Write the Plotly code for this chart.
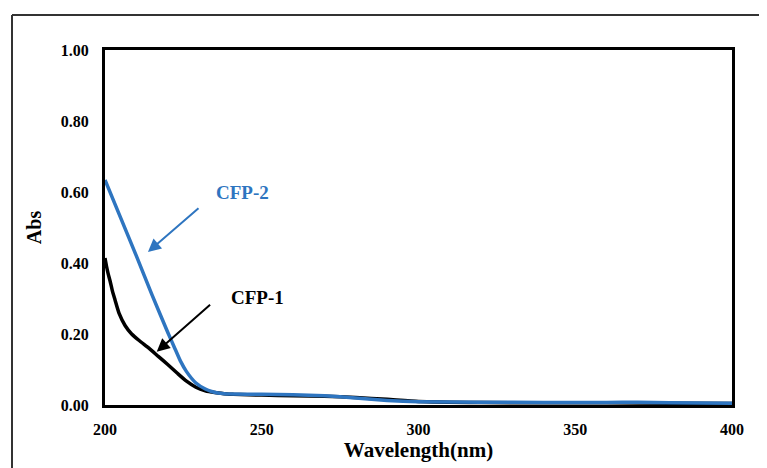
import plotly.graph_objects as go

# CFP-1 (black)
wl_cfp1 = [200, 200.5, 201, 201.6, 202.4, 203.2, 204.5, 206.4, 208.5, 211, 214, 217, 220, 223, 226, 229, 232, 235, 238, 241,
           250, 260, 270, 280, 290, 300, 320, 340, 360, 380, 400]
abs_cfp1 = [0.414, 0.39, 0.37, 0.35, 0.32, 0.296, 0.258, 0.224, 0.2, 0.181, 0.16, 0.137, 0.114, 0.09, 0.067, 0.05, 0.04, 0.035, 0.032, 0.030,
            0.028, 0.026, 0.025, 0.021, 0.016, 0.010, 0.007, 0.006, 0.006, 0.005, 0.004]

# CFP-2 (blue)
wl_cfp2 = [200, 205, 210, 215, 220, 222, 224, 226, 229, 232, 234, 236, 238, 240, 250, 260, 270, 280, 290,
           300, 320, 340, 360, 370, 380, 400]
abs_cfp2 = [0.634, 0.527, 0.42, 0.31, 0.205, 0.165, 0.125, 0.094, 0.062, 0.045, 0.038, 0.034, 0.032, 0.031, 0.030, 0.029, 0.026, 0.020, 0.013,
            0.009, 0.008, 0.007, 0.007, 0.008, 0.006, 0.005]

x_ticks = [200, 250, 300, 350, 400]
y_ticks = [0.0, 0.2, 0.4, 0.6, 0.8, 1.0]
y_tick_labels = ["0.00", "0.20", "0.40", "0.60", "0.80", "1.00"]

BLUE = "#2E75C0"
FONT = "Liberation Serif"

fig = go.Figure()
fig.add_trace(go.Scatter(x=wl_cfp1, y=abs_cfp1, mode="lines", name="CFP-1",
                         line=dict(color="black", width=3.5, shape="spline", smoothing=0.5)))
fig.add_trace(go.Scatter(x=wl_cfp2, y=abs_cfp2, mode="lines", name="CFP-2",
                         line=dict(color=BLUE, width=3.5, shape="spline", smoothing=0.5)))

# arrows
fig.add_annotation(x=213.7, y=0.431, ax=230.3, ay=0.558, axref="x", ayref="y", xref="x", yref="y",
                   text="", showarrow=True, arrowhead=2, arrowsize=1.3, arrowwidth=2, arrowcolor=BLUE)
fig.add_annotation(x=216.5, y=0.15, ax=234.0, ay=0.286, axref="x", ayref="y", xref="x", yref="y",
                   text="", showarrow=True, arrowhead=2, arrowsize=1.3, arrowwidth=2, arrowcolor="black")
# labels
fig.add_annotation(x=243.7, y=0.60, xref="x", yref="y", text="<b>CFP-2</b>", showarrow=False,
                   font=dict(family=FONT, size=19, color=BLUE))
fig.add_annotation(x=248.5, y=0.304, xref="x", yref="y", text="<b>CFP-1</b>", showarrow=False,
                   font=dict(family=FONT, size=19, color="black"))

# outer frame (top and left lines)
fx = -93 / 627
fy = (405 - 15) / 355
fig.add_shape(type="line", xref="paper", yref="paper", x0=fx, x1=1.2, y0=fy, y1=fy,
              line=dict(color="#333333", width=2))
fig.add_shape(type="line", xref="paper", yref="paper", x0=fx, x1=fx, y0=fy, y1=-0.3,
              line=dict(color="#333333", width=2))

# page has an 8px body margin, so size/margins are compensated
fig.update_layout(
    width=759, height=460,
    margin=dict(l=97, r=35, t=42, b=63, autoexpand=False),
    paper_bgcolor="white", plot_bgcolor="white",
    showlegend=False,
    font=dict(family=FONT, color="black"),
    xaxis=dict(range=[200, 400], tickvals=x_ticks, ticktext=[f"<b>{v}</b>" for v in x_ticks],
               showgrid=False, zeroline=False, showline=True, linecolor="black", linewidth=3, mirror=True,
               ticks="", tickfont=dict(family=FONT, size=16), ticklabelstandoff=8,
               title=dict(text="<b>Wavelength(nm)</b>", font=dict(family=FONT, size=21), standoff=2)),
    yaxis=dict(range=[0, 1], tickvals=y_ticks, ticktext=[f"<b>{t}</b>" for t in y_tick_labels],
               showgrid=False, zeroline=False, showline=True, linecolor="black", linewidth=3, mirror=True,
               ticks="", tickfont=dict(family=FONT, size=16), ticklabelstandoff=10,
               title=dict(text="<b>Abs</b>", font=dict(family=FONT, size=20), standoff=14)),
)

fig.write_html("out.html")
